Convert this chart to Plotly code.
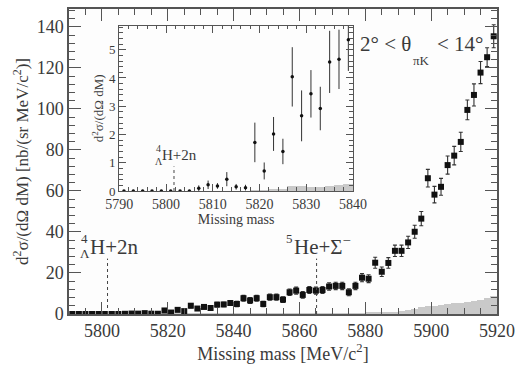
import plotly.graph_objects as go

# ---------------- data ----------------
mass = [5791, 5793, 5795, 5797, 5799, 5801, 5803, 5805, 5807, 5809,
        5811, 5813, 5815, 5817, 5819, 5821, 5823, 5825, 5827, 5829,
        5831, 5833, 5835, 5837, 5839, 5841, 5843, 5845, 5847, 5849,
        5851, 5853, 5855, 5857, 5859, 5861, 5863, 5865, 5867, 5869,
        5871, 5873, 5875, 5877, 5879, 5881, 5883, 5885, 5887, 5889,
        5891, 5893, 5895, 5897, 5899, 5901, 5903, 5905, 5907, 5909,
        5911, 5913, 5915, 5917, 5919]

xsec = [0, 0, 0, 0, 0, 0, 0, 0, 0.10, 0.22,
        0.18, 0.42, 0.15, 0.12, 1.72, 0.71, 2.02, 1.40, 4.04, 2.66,
        3.44, 2.92, 4.57, 4.66, 5.35, 4.9, 7.7, 6.6, 7.7, 4.9,
        8.2, 8.2, 7.0, 10.6, 11.4, 9.3, 11.7, 11.4, 11.7, 13.4,
        13.7, 13.7, 10.6, 13.7, 17.7, 17.2, 25.0, 20.6, 24.9, 30.8,
        30.8, 34.9, 40.1, 46.5, 66.2, 58.2, 62.0, 72.6, 77.2, 83.9,
        99.5, 106.8, 117.7, 125.2, 135.4]

err = [0.04, 0.04, 0.04, 0.04, 0.04, 0.04, 0.04, 0.04, 0.10, 0.15,
       0.10, 0.25, 0.10, 0.10, 0.70, 0.30, 0.60, 0.45, 1.05, 0.90,
       0.84, 0.77, 1.10, 1.05, 1.10, 1.3, 1.4, 1.4, 1.4, 1.3,
       1.5, 1.5, 1.4, 1.6, 1.7, 1.6, 1.7, 1.7, 1.7, 1.8,
       1.8, 1.8, 1.7, 1.8, 2.0, 1.9, 2.7, 2.3, 2.6, 2.8,
       2.8, 3.0, 3.2, 3.5, 4.3, 4.0, 4.1, 4.4, 4.5, 4.7,
       4.8, 5.4, 5.4, 4.6, 5.6]

background = [0, 0, 0, 0, 0, 0, 0, 0, 0, 0,
              0, 0, 0, 0, 0.05, 0.05, 0.07, 0.07, 0.20, 0.20,
              0.15, 0.15, 0.20, 0.22, 0.25, 0.25, 0.25, 0.25, 0.25, 0.3,
              0.3, 0.3, 0.3, 0.3, 0.3, 0.3, 0.35, 0.35, 0.35, 0.35,
              0.4, 0.4, 0.4, 0.4, 0.45, 0.5, 0.5, 0.6, 0.7, 0.9,
              1.3, 2.0, 2.6, 3.6, 4.0, 4.0, 4.5, 5.0, 5.2, 5.6,
              6.0, 6.4, 7.0, 7.6, 9.0]

inset_n = 25  # bins shown in the inset (5790-5840)

thresholds = [5801.7, 5865.2]

FONT = "Liberation Serif"
AXC = "#555555"
TXT = "#3a3a3a"

fig = go.Figure()

# main plot
fig.add_trace(go.Bar(x=mass, y=background, width=2, marker=dict(color="#c9c9c9", line=dict(width=0)),
                     xaxis="x", yaxis="y", showlegend=False))
fig.add_trace(go.Scatter(x=mass, y=xsec, mode="markers",
                         marker=dict(symbol="square", size=6, color="#111111"),
                         error_y=dict(type="data", array=err, color="#333333", thickness=1.1, width=2),
                         xaxis="x", yaxis="y", showlegend=False))

# inset
fig.add_trace(go.Bar(x=mass[:inset_n], y=background[:inset_n], width=2,
                     marker=dict(color="#c9c9c9", line=dict(width=0)),
                     xaxis="x2", yaxis="y2", showlegend=False))
fig.add_trace(go.Scatter(x=mass[:inset_n], y=xsec[:inset_n], mode="markers",
                         marker=dict(symbol="circle", size=3.5, color="#111111"),
                         error_y=dict(type="data", array=err[:inset_n], color="#333333", thickness=1, width=0),
                         cliponaxis=True,
                         xaxis="x2", yaxis="y2", showlegend=False))

shapes = [
    dict(type="line", xref="x", yref="y", x0=thresholds[0], x1=thresholds[0], y0=0, y1=27,
         line=dict(color="#444444", width=1, dash="dot")),
    dict(type="line", xref="x", yref="y", x0=thresholds[1], x1=thresholds[1], y0=0, y1=27,
         line=dict(color="#444444", width=1, dash="dot")),
    dict(type="line", xref="x2", yref="y2", x0=thresholds[0], x1=thresholds[0], y0=0, y1=0.87,
         line=dict(color="#444444", width=1, dash="dot")),
]

ann = []
def txt(x, y, s, size, xanchor="left", yanchor="middle", xref="paper", yref="paper"):
    ann.append(dict(x=x, y=y, xref=xref, yref=yref, text=s, showarrow=False,
                    xanchor=xanchor, yanchor=yanchor,
                    font=dict(family=FONT, size=size, color=TXT)))

# pixel helpers (plot area: x 69..503, y 7..317)
def px(xp): return (xp - 69) / 434
def py(yp): return (317 - yp) / 310

# main labels
txt(px(79), py(240), "4", 13)
txt(px(78), py(256), "Λ", 13)
txt(px(88), py(249), "H+2n", 21)
txt(px(287), py(240), "5", 13)
txt(px(295), py(247), "He+Σ<sup>−</sup>", 21)
txt(px(362), py(43), "2° &lt; θ", 21)
txt(px(416), py(59), "πK", 13)
txt(px(440), py(43), "&lt; 14°", 21)

# inset labels
txt(px(155), py(149), "4", 10)
txt(px(154), py(162), "Λ", 10)
txt(px(161), py(155), "H+2n", 15)

fig.update_layout(
    width=522, height=365,
    margin=dict(l=69, r=19, t=7, b=48),
    paper_bgcolor="white", plot_bgcolor="#fdfdfd",
    barmode="overlay", bargap=0,
    font=dict(family=FONT, color=TXT),
    shapes=shapes, annotations=ann,
    xaxis=dict(domain=[0, 1], range=[5790, 5920], tick0=5800, dtick=20,
               ticks="inside", ticklen=12, tickwidth=1.2, tickcolor=AXC,
               minor=dict(ticks="inside", dtick=5, ticklen=6, tickcolor=AXC, tickwidth=1),
               showline=True, linecolor=AXC, linewidth=1.5, mirror="ticks",
               showgrid=False, zeroline=False,
               tickfont=dict(family=FONT, size=18, color=TXT),
               title=dict(text="Missing mass [MeV/c<sup>2</sup>]", standoff=4,
                          font=dict(family=FONT, size=18, color=TXT))),
    yaxis=dict(domain=[0, 1], range=[0, 148.7], tick0=0, dtick=20,
               ticks="inside", ticklen=12, tickwidth=1.2, tickcolor=AXC,
               minor=dict(ticks="inside", dtick=4, ticklen=6, tickcolor=AXC, tickwidth=1),
               showline=True, linecolor=AXC, linewidth=1.5, mirror="ticks",
               showgrid=False, zeroline=False,
               tickfont=dict(family=FONT, size=18, color=TXT),
               title=dict(text="d<sup>2</sup>σ/(dΩ dM) [nb/(sr MeV/c<sup>2</sup>)]", standoff=4,
                          font=dict(family=FONT, size=17, color=TXT))),
    xaxis2=dict(domain=[px(120), px(357)], anchor="y2", range=[5790, 5840], tick0=5790, dtick=10,
                ticks="inside", ticklen=7, tickwidth=1, tickcolor=AXC,
                minor=dict(ticks="inside", dtick=2, ticklen=3.5, tickcolor=AXC, tickwidth=1),
                showline=True, linecolor=AXC, linewidth=1.2, mirror="ticks",
                showgrid=False, zeroline=False,
                tickfont=dict(family=FONT, size=14, color=TXT),
                title=dict(text="Missing mass", standoff=2,
                           font=dict(family=FONT, size=14, color=TXT))),
    yaxis2=dict(domain=[py(192), py(24)], anchor="x2", range=[0, 5.85], tick0=0, dtick=1,
                ticks="inside", ticklen=7, tickwidth=1, tickcolor=AXC,
                minor=dict(ticks="inside", dtick=0.2, ticklen=3.5, tickcolor=AXC, tickwidth=1),
                showline=True, linecolor=AXC, linewidth=1.2, mirror="ticks",
                showgrid=False, zeroline=False,
                tickfont=dict(family=FONT, size=13, color=TXT),
                title=dict(text="d<sup>2</sup>σ/(dΩ dM)", standoff=2,
                           font=dict(family=FONT, size=13, color=TXT))),
)

fig.write_html("out.html")
